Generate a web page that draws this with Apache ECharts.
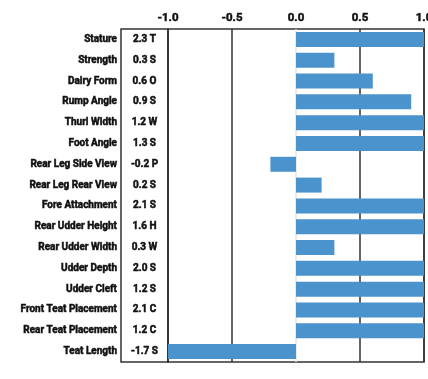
<!DOCTYPE html>
<html><head><meta charset="utf-8">
<script src="https://cdn.jsdelivr.net/npm/echarts@6/dist/echarts.min.js"></script>
<style>html,body{margin:0;padding:0;background:#fff}#c{width:428px;height:379px}</style>
</head><body><div id="c"></div>
<script>
const traits = ['Stature','Strength','Dairy Form','Rump Angle','Thurl Width','Foot Angle','Rear Leg Side View','Rear Leg Rear View','Fore Attachment','Rear Udder Height','Rear Udder Width','Udder Depth','Udder Cleft','Front Teat Placement','Rear Teat Placement','Teat Length'];
const scores = [2.3, 0.3, 0.6, 0.9, 1.2, 1.3, -0.2, 0.2, 2.1, 1.6, 0.3, 2.0, 1.2, 2.1, 1.2, -1.7];
const letters = ['T','S','O','S','W','S','P','S','S','H','W','S','S','C','C','S'];
const xTicks = [-1.0, -0.5, 0.0, 0.5, 1.0];

const scoreLabels = scores.map((v, i) => v.toFixed(1) + ' ' + letters[i]);
const font = 'Roboto, "Liberation Sans", sans-serif';
const txt = {color: '#111', fontFamily: font, fontWeight: 'bold', textBorderColor: '#111', textBorderWidth: 0.5};
const chart = echarts.init(document.getElementById('c'));
chart.setOption({
  backgroundColor: '#fff',
  animation: false,
  grid: [
    {left: 121, width: 47, top: 29, bottom: 17, show: true, borderColor: '#333', borderWidth: 1.5, backgroundColor: 'transparent', outerBoundsMode: 'none', containLabel: false},
    {left: 168, right: 4, top: 29, bottom: 17, show: true, borderColor: '#333', borderWidth: 1.5, backgroundColor: 'transparent', outerBoundsMode: 'none', containLabel: false}
  ],
  xAxis: [
    {gridIndex: 0, type: 'value', min: 0, max: 1, show: false},
    {gridIndex: 1, type: 'value', position: 'top', min: xTicks[0], max: xTicks[xTicks.length - 1], interval: 0.5,
     axisLine: {show: false}, axisTick: {show: false},
     axisLabel: Object.assign({margin: 5, fontSize: 11.5, letterSpacing: -0.5, formatter: v => v.toFixed(1)}, txt),
     splitLine: {show: true, lineStyle: {color: ['#333', '#333', '#e4e4e4', '#333', '#333'], width: 1.5}}}
  ],
  yAxis: [
    {gridIndex: 0, type: 'category', data: traits, inverse: true, position: 'left',
     axisLine: {show: false}, axisTick: {show: false},
     axisLabel: Object.assign({margin: 4, fontSize: 10, letterSpacing: -0.4}, txt)},
    {gridIndex: 0, type: 'category', data: scoreLabels, inverse: true, position: 'right',
     axisLine: {show: false}, axisTick: {show: false},
     axisLabel: Object.assign({margin: -23.5, align: 'center', fontSize: 10, letterSpacing: -0.4}, txt)},
    {gridIndex: 1, type: 'category', data: traits, inverse: true, show: false}
  ],
  series: [{
    type: 'bar', xAxisIndex: 1, yAxisIndex: 2, data: scores, clip: true,
    barCategoryGap: '28%', itemStyle: {color: '#4b93cd'}
  }]
});
</script></body></html>
